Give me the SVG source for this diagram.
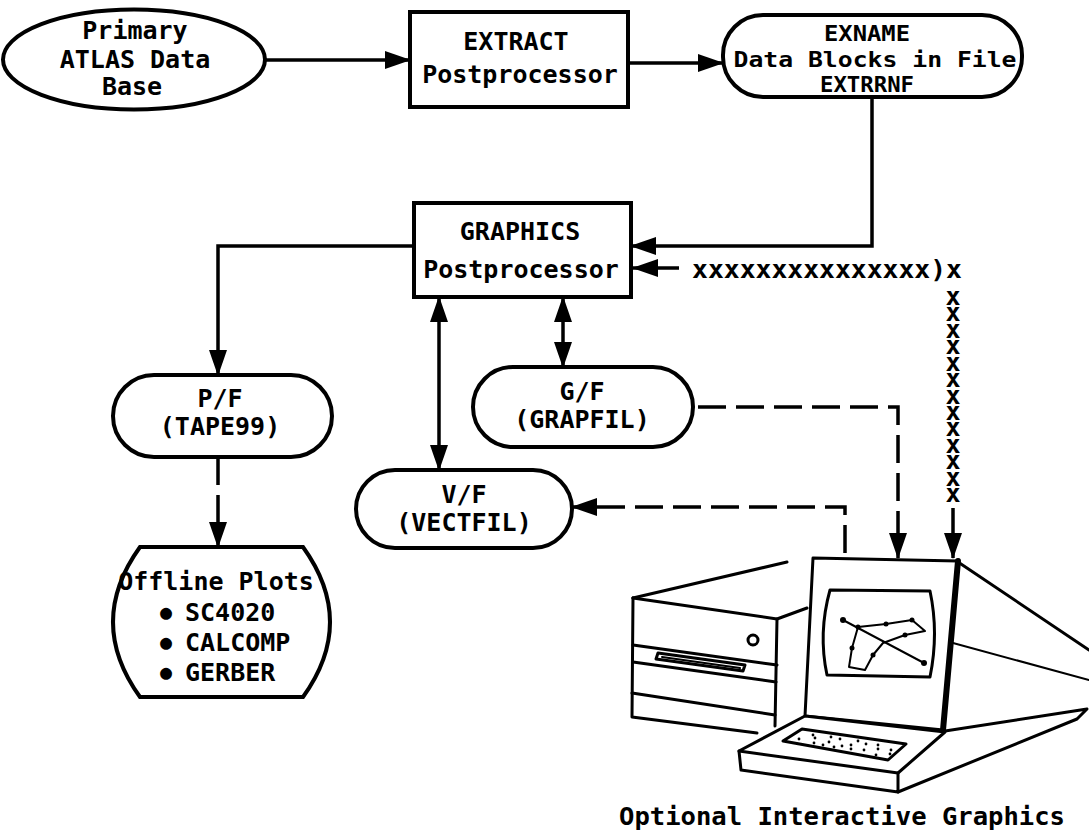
<svg xmlns="http://www.w3.org/2000/svg" width="1089" height="832" viewBox="0 0 1089 832">
  <defs>
    <style>
      .n { fill: #fff; stroke: #000; stroke-width: 4; }
      .t { font-family: "DejaVu Sans Mono", "Liberation Mono", monospace; font-weight: bold; font-size: 25px; text-anchor: middle; fill: #000; }
      .sm { font-size: 21px; }
      .tl { text-anchor: start; }
      .vt { text-anchor: start; writing-mode: vertical-rl; text-orientation: upright; }
      .bul { font-size: 20px; }
      .c { fill: none; stroke: #000; stroke-width: 3.5; }
      .d { stroke-dasharray: 28 10; }
      .pc { fill: none; stroke: #000; stroke-width: 3; stroke-linejoin: round; stroke-linecap: round; }
      .thin { stroke-width: 2; }
      .dot { fill: #000; }
    </style>
    <marker id="ah" markerUnits="userSpaceOnUse" markerWidth="26" markerHeight="18" viewBox="0 0 26 18" refX="25" refY="9" orient="auto-start-reverse">
      <path d="M0,0 L26,9 L0,18 Z" fill="#000"/>
    </marker>
  </defs>

  <rect width="1089" height="832" fill="#fff"/>

  <!-- connectors -->
  <g id="connectors">
    <path class="c" d="M265,60 H410" marker-end="url(#ah)"/>
    <path class="c" d="M628,63 H723" marker-end="url(#ah)"/>
    <path class="c" d="M872,97 V246 H631" marker-end="url(#ah)"/>
    <path class="c" d="M414,246 H218 V375" marker-end="url(#ah)"/>
    <path class="c" d="M439,297 V470" marker-start="url(#ah)" marker-end="url(#ah)"/>
    <path class="c" d="M563,297 V367" marker-start="url(#ah)" marker-end="url(#ah)"/>
    <path class="c d" d="M698,407 H898 V558" marker-end="url(#ah)"/>
    <path class="c d" d="M845,553 V507 H572" marker-end="url(#ah)"/>
    <path class="c d" d="M218,457 V547" marker-end="url(#ah)"/>
    <!-- interactive link drawn as a row and a column of typed x marks -->
    <path class="c" d="M679,268 H633" marker-end="url(#ah)"/>
    <text class="t tl" x="692" y="278" textLength="270" lengthAdjust="spacingAndGlyphs">xxxxxxxxxxxxxxx)x</text>
    <text class="t vt" x="953" y="282" textLength="226" lengthAdjust="spacing">xxxxxxxxxxxxx</text>
    <path class="c" d="M953,508 V558" marker-end="url(#ah)"/>
  </g>

  <!-- nodes -->
  <g id="primary">
    <ellipse class="n" cx="134" cy="59.5" rx="131" ry="50"/>
    <text class="t" x="135" y="39">Primary</text>
    <text class="t" x="135" y="68">ATLAS Data</text>
    <text class="t" x="132" y="95">Base</text>
  </g>

  <g id="extract">
    <rect class="n" x="410" y="12" width="218" height="95"/>
    <text class="t" x="516" y="50">EXTRACT</text>
    <text class="t" x="520" y="83">Postprocessor</text>
  </g>

  <g id="exname">
    <rect class="n" x="723" y="15" width="299" height="82" rx="40"/>
    <text class="t sm" x="867" y="41" textLength="86" lengthAdjust="spacingAndGlyphs">EXNAME</text>
    <text class="t sm" x="875" y="67" textLength="283" lengthAdjust="spacingAndGlyphs">Data Blocks in File</text>
    <text class="t sm" x="867" y="92" textLength="94" lengthAdjust="spacingAndGlyphs">EXTRRNF</text>
  </g>

  <g id="graphics">
    <rect class="n" x="414" y="203" width="217" height="94"/>
    <text class="t" x="520" y="240">GRAPHICS</text>
    <text class="t" x="521" y="278">Postprocessor</text>
  </g>

  <g id="pf">
    <rect class="n" x="113" y="375" width="219" height="82" rx="41"/>
    <text class="t" x="220" y="407">P/F</text>
    <text class="t" x="220" y="435">(TAPE99)</text>
  </g>

  <g id="gf">
    <rect class="n" x="473" y="367" width="220" height="80" rx="40"/>
    <text class="t" x="582" y="400">G/F</text>
    <text class="t" x="582" y="428">(GRAPFIL)</text>
  </g>

  <g id="vf">
    <rect class="n" x="356" y="470" width="216" height="78" rx="39"/>
    <text class="t" x="464" y="503">V/F</text>
    <text class="t" x="464" y="531">(VECTFIL)</text>
  </g>

  <g id="offline">
    <path class="n" d="M140,547 L303,547 Q357,622 303,697 L140,697 Q86,622 140,547 Z"/>
    <text class="t" x="216" y="590">Offline Plots</text>
    <text class="t tl"><tspan class="bul" x="160" y="619">●</tspan><tspan x="185" y="621">SC4020</tspan></text>
    <text class="t tl"><tspan class="bul" x="160" y="649">●</tspan><tspan x="185" y="651">CALCOMP</tspan></text>
    <text class="t tl"><tspan class="bul" x="160" y="679">●</tspan><tspan x="185" y="681">GERBER</tspan></text>
  </g>

  <!-- interactive graphics terminal -->
  <g id="terminal">
    <!-- cabinet -->
    <path class="pc" d="M633,598 L787,562"/>
    <path class="pc" d="M633,598 L777,619 L807,608"/>
    <path class="pc" d="M633,598 L632,717 L757,733"/>
    <path class="pc" d="M777,619 L775,726"/>
    <path class="pc" d="M633,645 L777,665"/>
    <path class="pc" d="M633,662 L776,682"/>
    <path class="pc" d="M632,693 L775,715"/>
    <circle class="pc" cx="753" cy="640" r="5"/>
    <path class="pc" d="M658,653 L745,665 L743,671 L656,659 Z"/>
    <path class="pc thin" d="M662,657 L740,668"/>

    <!-- monitor back -->
    <path class="pc" d="M958,562 L1089,650"/>
    <path class="pc thin" d="M953,643 L1089,680"/>

    <!-- monitor front -->
    <path class="n" style="stroke-width:3;stroke-linejoin:round" d="M813,558 L958,561 L943,730 L805,716 Z"/>
    <path class="pc" style="stroke-width:6" d="M958,561 L943,730"/>
    <path class="pc" d="M830,590 L930,591 Q939,633 930,677 L827,675 Q818,633 830,590 Z"/>

    <!-- plot on screen -->
    <path class="pc thin" d="M843,620 L924,663"/>
    <path class="pc thin" d="M858,627 L886,624 L912,620 L925,631 L905,635 L883,643 L873,655 L865,670 L849,667 L852,648 L858,627"/>
    <circle class="dot" cx="843" cy="620" r="3"/>
    <circle class="dot" cx="858" cy="627" r="2.5"/>
    <circle class="dot" cx="886" cy="624" r="2.5"/>
    <circle class="dot" cx="912" cy="620" r="2.5"/>
    <circle class="dot" cx="905" cy="635" r="2.5"/>
    <circle class="dot" cx="924" cy="663" r="3"/>
    <circle class="dot" cx="873" cy="655" r="2.5"/>
    <circle class="dot" cx="852" cy="648" r="2.5"/>

    <!-- keyboard -->
    <path class="n" style="stroke-width:3;stroke-linejoin:round" d="M805,716 L945,732 L898,773 L739,751 Z"/>
    <path class="pc" d="M739,751 L741,770 L898,792 L898,773"/>
    <path class="pc" d="M783,741 L802,729 L906,744 L888,760 Z"/>
    <g class="dot">
      <circle cx="799" cy="739" r="1.4"/>
      <circle cx="815" cy="738" r="1.4"/>
      <circle cx="814" cy="743" r="1.4"/>
      <circle cx="829" cy="742" r="1.4"/>
      <circle cx="840" cy="739" r="1.4"/>
      <circle cx="834" cy="747" r="1.4"/>
      <circle cx="851" cy="745" r="1.4"/>
      <circle cx="851" cy="749" r="1.4"/>
      <circle cx="866" cy="744" r="1.4"/>
      <circle cx="864" cy="750" r="1.4"/>
      <circle cx="878" cy="749" r="1.4"/>
      <circle cx="876" cy="755" r="1.4"/>
      <circle cx="891" cy="750" r="1.4"/>
      <circle cx="813" cy="735" r="1.4"/>
      <circle cx="831" cy="737" r="1.4"/>
      <circle cx="842" cy="746" r="1.4"/>
      <circle cx="878" cy="745" r="1.4"/>
      <circle cx="890" cy="754" r="1.4"/>
      <circle cx="823" cy="745" r="1.4"/>
      <circle cx="858" cy="741" r="1.4"/>
    </g>

    <!-- pedestal -->
    <path class="pc" d="M945,731 L1087,709 L1077,719 L898,792"/>

    <text class="t" x="842" y="825" textLength="446" lengthAdjust="spacingAndGlyphs">Optional Interactive Graphics</text>
  </g>
</svg>
